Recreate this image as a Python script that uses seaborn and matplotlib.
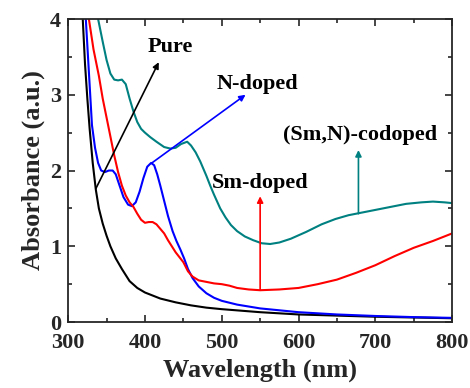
import numpy as np
import pandas as pd
import matplotlib
matplotlib.use("Agg")
import matplotlib.pyplot as plt
import seaborn as sns
from matplotlib.ticker import MultipleLocator

# Absorbance spectra
pure_wl = [319, 322, 325, 328, 332, 336, 340, 345, 350, 355, 362, 370, 380, 390, 400,
           420, 440, 460, 480, 500, 550, 600, 650, 700, 750, 800]
pure_abs = [4.0, 3.4, 2.95, 2.55, 2.1, 1.75, 1.5, 1.3, 1.14, 1.0, 0.84, 0.7, 0.54, 0.45, 0.39,
            0.31, 0.26, 0.22, 0.19, 0.17, 0.13, 0.1, 0.085, 0.07, 0.06, 0.05]

n_wl = [323, 327, 331, 335, 339, 343, 348, 353, 358, 362, 367, 372, 378, 383, 388, 393, 398,
        403, 408, 412, 416, 420, 425, 430, 436, 441, 446, 451, 456, 462, 470, 480, 490, 500,
        520, 550, 600, 650, 700, 750, 800]
n_abs = [4.0, 3.3, 2.6, 2.3, 2.1, 2.0, 1.98, 2.0, 2.0, 1.95, 1.8, 1.65, 1.55, 1.53, 1.58, 1.72,
         1.9, 2.05, 2.1, 2.07, 1.95, 1.8, 1.6, 1.4, 1.2, 1.07, 0.96, 0.84, 0.7, 0.58, 0.47,
         0.38, 0.32, 0.28, 0.23, 0.18, 0.13, 0.1, 0.08, 0.065, 0.055]

sm_wl = [327, 333, 340, 345, 350, 355, 360, 365, 370, 375, 380, 385, 390, 395, 400, 405, 410,
         415, 420, 425, 430, 440, 450, 456, 462, 470, 480, 490, 500, 510, 520, 535, 550, 575,
         600, 625, 650, 675, 700, 725, 750, 775, 800]
sm_abs = [4.0, 3.6, 3.25, 2.95, 2.7, 2.45, 2.2, 1.98, 1.8, 1.67, 1.58, 1.52, 1.43, 1.35, 1.31,
          1.32, 1.32, 1.29, 1.23, 1.17, 1.08, 0.92, 0.79, 0.67, 0.6, 0.55, 0.53, 0.51, 0.5, 0.48,
          0.45, 0.43, 0.42, 0.43, 0.45, 0.5, 0.56, 0.65, 0.75, 0.87, 0.98, 1.07, 1.17]

co_wl = [339, 345, 350, 355, 360, 365, 370, 375, 380, 385, 390, 395, 400, 407, 415, 425, 433,
         440, 447, 455, 460, 466, 472, 480, 485, 490, 498, 505, 512, 520, 530, 541, 552, 563,
         575, 590, 610, 630, 648, 665, 680, 700, 720, 740, 760, 775, 790, 800]
co_abs = [4.0, 3.7, 3.46, 3.28, 3.2, 3.19, 3.2, 3.14, 2.95, 2.78, 2.64, 2.55, 2.5, 2.44, 2.38,
          2.31, 2.29, 2.3, 2.35, 2.38, 2.33, 2.24, 2.12, 1.93, 1.8, 1.68, 1.5, 1.38, 1.28, 1.2,
          1.13, 1.08, 1.04, 1.03, 1.05, 1.1, 1.19, 1.29, 1.36, 1.41, 1.44, 1.48, 1.52, 1.56,
          1.58, 1.59, 1.58, 1.57]

series = {"Pure": (pure_wl, pure_abs), "N-doped": (n_wl, n_abs),
          "Sm-doped": (sm_wl, sm_abs), "(Sm,N)-codoped": (co_wl, co_abs)}
colors = {"Pure": "black", "N-doped": "#0000ff", "Sm-doped": "#ff0000",
          "(Sm,N)-codoped": "#008080"}

frames = [pd.DataFrame({"wl": wl, "abs": ab, "sample": name}) for name, (wl, ab) in series.items()]
df = pd.concat(frames, ignore_index=True)

sns.set_style("ticks")
plt.rcParams["font.family"] = ["Liberation Serif", "DejaVu Serif"]
plt.rcParams["font.weight"] = "bold"

fig = plt.figure(figsize=(4.7, 3.88), dpi=100)
ax = fig.add_axes([0.145, 0.170, 0.817, 0.781])
sns.lineplot(data=df, x="wl", y="abs", hue="sample", palette=colors, sort=False,
             estimator=None, legend=False, linewidth=1.5, ax=ax)

# annotations: text + arrow
ann = [("Pure", (336, 1.76), (418, 3.43), (433, 3.63), "black"),
       ("N-doped", (409, 2.1), (531, 3.0), (547, 3.14), "#0000ff"),
       ("(Sm,N)-codoped", (678, 1.43), (678, 2.27), (680, 2.47), "#008080"),
       ("Sm-doped", (550, 0.42), (550, 1.66), (550, 1.83), "#ff0000")]
for label, start, end, txt, col in ann:
    ax.annotate("", xy=end, xytext=start,
                arrowprops=dict(arrowstyle="-|>", color=col, lw=1.2, mutation_scale=9,
                                shrinkA=0, shrinkB=0))
    ax.text(txt[0], txt[1], label, ha="center", va="center", fontsize=16,
            fontweight="bold", color="black")

ax.set_xlim(300, 800)
ax.set_ylim(0, 4)
ax.xaxis.set_major_locator(MultipleLocator(100))
ax.xaxis.set_minor_locator(MultipleLocator(50))
ax.yaxis.set_major_locator(MultipleLocator(1))
ax.yaxis.set_minor_locator(MultipleLocator(0.5))
ax.tick_params(which="both", direction="in", top=True, right=True, width=1.2,
               labelsize=16)
ax.tick_params(which="major", length=5)
ax.tick_params(which="minor", length=3)
ax.tick_params(axis="x", pad=8)
ax.tick_params(axis="y", pad=5)
for s in ax.spines.values():
    s.set_linewidth(1.3)
    s.set_visible(True)
for lab in ax.get_xticklabels() + ax.get_yticklabels():
    lab.set_fontweight("bold")

ax.set_xlabel("Wavelength (nm)", fontsize=19, fontweight="bold", labelpad=4)
ax.set_ylabel("Absorbance (a.u.)", fontsize=19, fontweight="bold", labelpad=4)

fig.savefig("out.png", dpi=100)
